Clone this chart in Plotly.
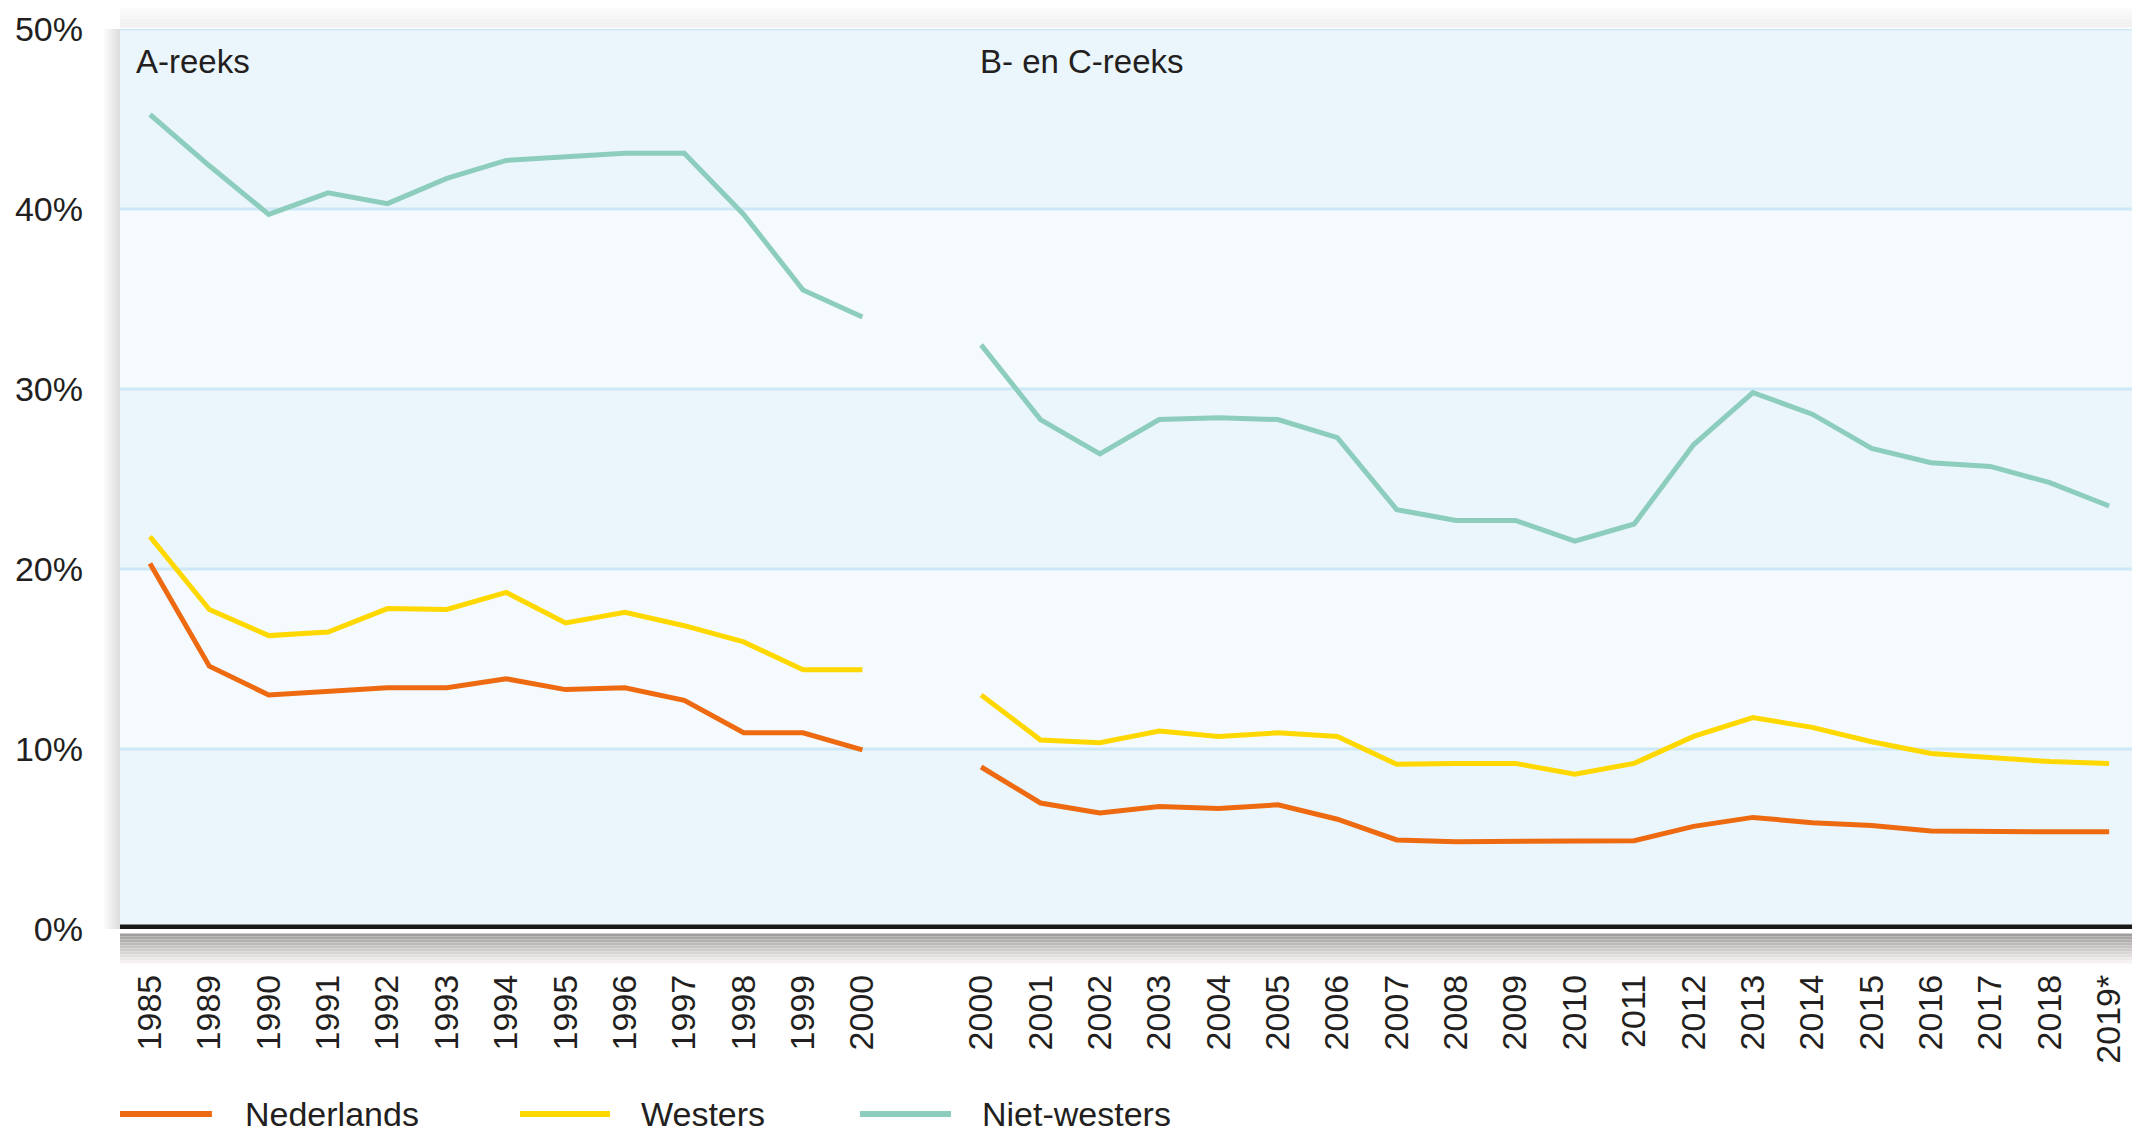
import plotly.graph_objects as go

# ---- data ----
years_a = ["1985", "1989", "1990", "1991", "1992", "1993", "1994", "1995",
           "1996", "1997", "1998", "1999", "2000"]
years_b = ["2000", "2001", "2002", "2003", "2004", "2005", "2006", "2007",
           "2008", "2009", "2010", "2011", "2012", "2013", "2014", "2015",
           "2016", "2017", "2018", "2019*"]

nederlands_a = [20.3, 14.6, 13.0, 13.2, 13.4, 13.4, 13.9, 13.3, 13.4, 12.7, 10.9, 10.9, 9.95]
westers_a = [21.8, 17.75, 16.3, 16.5, 17.8, 17.75, 18.7, 17.0, 17.6, 16.85, 15.95, 14.4, 14.4]
nietwesters_a = [45.25, 42.4, 39.7, 40.9, 40.3, 41.7, 42.7, 42.9, 43.1, 43.1, 39.7, 35.5, 34.0]

nederlands_b = [9.0, 7.0, 6.45, 6.8, 6.7, 6.9, 6.1, 4.95, 4.85, 4.85, 4.85, 4.9, 5.7,
                6.2, 5.9, 5.75, 5.45, 5.4, 5.4, 5.4]
westers_b = [13.0, 10.5, 10.35, 11.0, 10.7, 10.9, 10.7, 9.15, 9.2, 9.2, 8.6, 9.2, 10.7,
             11.75, 11.2, 10.4, 9.75, 9.5, 9.3, 9.2]
nietwesters_b = [32.45, 28.3, 26.4, 28.3, 28.4, 28.3, 27.3, 23.3, 22.7, 22.7, 21.55, 22.5,
                 26.9, 29.8, 28.6, 26.7, 25.9, 25.7, 24.8, 23.5]

series_names = ["Nederlands", "Westers", "Niet-westers"]
series_colors = ["#EE6A10", "#FFD800", "#8DCDBE"]
y_ticks = [0, 10, 20, 30, 40, 50]
y_ticklabels = ["0%", "10%", "20%", "30%", "40%", "50%"]
section_labels = ["A-reeks", "B- en C-reeks"]

# ---- positions: A series, one empty slot, B series ----
pos_a = list(range(len(years_a)))
gap = len(years_a)
pos_b = [gap + 1 + i for i in range(len(years_b))]
x_all = pos_a + [gap] + pos_b
tickvals = pos_a + pos_b
ticktext = years_a + years_b

FONT = "Liberation Sans, Arial, sans-serif"
TXT = "#231F20"

fig = go.Figure()
for name, col, a, b in zip(series_names, series_colors,
                           [nederlands_a, westers_a, nietwesters_a],
                           [nederlands_b, westers_b, nietwesters_b]):
    fig.add_trace(go.Scatter(
        x=x_all, y=a + [None] + b, mode="lines", name=name,
        line=dict(color=col, width=5), connectgaps=False, showlegend=False,
        hoverinfo="skip"))

shapes = []
# background bands
band_cols = ["#EAF6FC", "#F4FAFD"]
for i in range(5):
    shapes.append(dict(type="rect", xref="paper", yref="y", x0=0, x1=1,
                       y0=y_ticks[i], y1=y_ticks[i + 1], line_width=0,
                       fillcolor=band_cols[i % 2], layer="below"))
# gridlines
for v in y_ticks[1:]:
    shapes.append(dict(type="line", xref="paper", yref="y", x0=0, x1=1, y0=v, y1=v,
                       line=dict(color="#CDE8F6", width=3), layer="below"))

# shadows (plot px: width 2020, height 900)
W, H = 2020.0, 900.0
n = 10
for k in range(n):
    t = k / n
    g = int(160 + (255 - 160) * t)
    shapes.append(dict(type="rect", xref="paper", yref="paper", x0=0, x1=1,
                       y0=-(4.5 + 3 * (k + 1)) / H, y1=-(4.5 + 3 * k) / H,
                       line_width=0, fillcolor=f"rgb({g},{g - 3},{g - 4})", layer="below"))
for k in range(8):
    t = k / 8
    g = int(222 + (255 - 222) * t)
    shapes.append(dict(type="rect", xref="paper", yref="paper",
                       x0=-(2 * (k + 1)) / W, x1=-(2 * k) / W, y0=0, y1=1.0,
                       line_width=0, fillcolor=f"rgb({g},{g},{g})", layer="below"))
for k in range(8):
    t = k / 8
    g = int(240 + (255 - 240) * t)
    shapes.append(dict(type="rect", xref="paper", yref="paper", x0=0, x1=1,
                       y0=1 + 1.5 / H + 3 * k / H, y1=1 + 1.5 / H + 3 * (k + 1) / H,
                       line_width=0, fillcolor=f"rgb({g},{g},{g})", layer="below"))

# black baseline
shapes.append(dict(type="line", xref="paper", yref="y", x0=0, x1=1, y0=0, y1=0,
                   line=dict(color="#1A1718", width=9), layer="above"))

# manual legend
leg_line_x = [(0.0, 0.0455), (0.198, 0.2426), (0.3663, 0.4114)]
leg_text_x = [0.0609, 0.2569, 0.4257]
leg_y = -0.2056
annotations = []
for (x0, x1), tx, name, col in zip(leg_line_x, leg_text_x, series_names, series_colors):
    shapes.append(dict(type="line", xref="paper", yref="paper", x0=x0, x1=x1,
                       y0=leg_y, y1=leg_y, line=dict(color=col, width=6)))
    annotations.append(dict(xref="paper", yref="paper", x=tx, y=leg_y, text=name,
                            showarrow=False, xanchor="left", yanchor="middle",
                            font=dict(family=FONT, size=34, color=TXT)))

# section labels
annotations.append(dict(xref="x", yref="y", x=-0.27, y=48.2, text=section_labels[0],
                        showarrow=False, xanchor="left", yanchor="middle",
                        font=dict(family=FONT, size=33, color=TXT)))
annotations.append(dict(xref="x", yref="y", x=13.95, y=48.2, text=section_labels[1],
                        showarrow=False, xanchor="left", yanchor="middle",
                        font=dict(family=FONT, size=33, color=TXT)))

# page body has an 8px margin: shrink figure so the plot lands where it should
fig.update_layout(
    width=2132, height=1130,
    margin=dict(l=112, r=0, t=21, b=209),
    paper_bgcolor="white", plot_bgcolor="rgba(0,0,0,0)",
    shapes=shapes, annotations=annotations,
    font=dict(family=FONT, size=34, color=TXT),
    xaxis=dict(range=[-0.505, 33.52], tickmode="array", tickvals=tickvals,
               ticktext=ticktext, tickangle=-90, showgrid=False, zeroline=False,
               showline=False, ticks="", ticklabelstandoff=38,
               tickfont=dict(family=FONT, size=34, color=TXT), fixedrange=True),
    yaxis=dict(range=[0, 50], tickmode="array", tickvals=y_ticks, ticktext=y_ticklabels,
               showgrid=False, zeroline=False, showline=False, ticks="",
               ticklabelstandoff=36, tickfont=dict(family=FONT, size=34, color=TXT),
               fixedrange=True),
)

fig.write_html("out.html")
